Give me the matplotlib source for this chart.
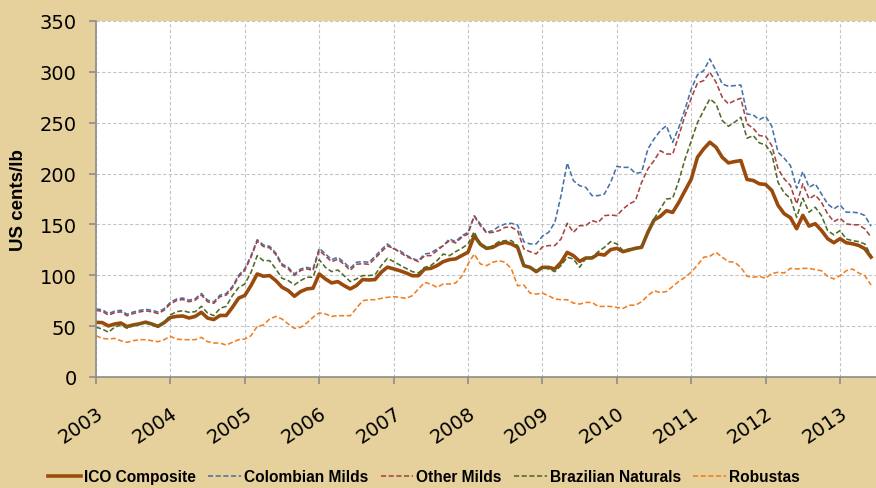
import matplotlib
matplotlib.use("Agg")
import matplotlib.pyplot as plt

# monthly prices, Jan 2003 .. Jun 2013 (US cents/lb)
ico_composite = [
    53.7, 53.5, 50.2, 52.1, 53.1, 49.6, 51.2, 52.3, 53.9, 52.1, 49.8, 53.5,
    58.5, 59.6, 60.0, 58.0, 59.6, 63.6, 57.9, 56.5, 60.5, 60.5, 68.5, 77.5,
    80.2, 89.9, 101.3, 99.1, 99.7, 94.8, 88.3, 85.0, 79.4, 84.0, 86.6, 87.3,
    101.3, 96.4, 92.5, 93.8, 89.9, 86.6, 89.9, 95.8, 95.4, 95.8, 103.0, 108.0,
    106.3, 104.5, 102.3, 99.6, 99.6, 106.2, 106.8, 109.5, 113.4, 115.4, 116.1, 119.4,
    122.7, 138.9, 130.5, 126.5, 127.5, 130.8, 132.4, 130.8, 127.5, 109.5, 107.8, 103.6,
    107.8, 107.8, 106.2, 112.7, 122.5, 119.3, 113.7, 117.0, 117.0, 120.9, 119.9, 125.2,
    126.5, 123.2, 124.9, 126.5, 127.5, 142.2, 154.3, 157.9, 163.5, 161.8, 171.7, 183.2,
    194.5, 216.0, 224.2, 230.8, 225.9, 216.0, 210.5, 211.8, 212.8, 194.2, 193.2, 189.9,
    189.3, 183.4, 168.7, 160.5, 156.6, 145.8, 158.9, 148.4, 150.7, 144.1, 136.0, 132.0,
    136.0, 132.0, 131.0, 129.4, 126.1, 117.9,
]
colombian_milds = [
    66.9, 66.2, 62.3, 64.7, 65.6, 61.7, 63.9, 65.4, 66.6, 65.6, 63.9, 67.2,
    73.4, 76.7, 77.7, 75.5, 77.0, 82.1, 75.5, 73.9, 80.5, 82.0, 89.0, 100.0,
    106.4, 119.3, 135.0, 129.8, 128.5, 121.9, 111.1, 107.8, 101.3, 106.2, 107.8, 106.2,
    126.5, 121.0, 115.4, 117.7, 112.8, 106.9, 112.8, 113.4, 112.8, 118.5, 125.0, 130.8,
    126.0, 124.2, 119.9, 116.6, 114.4, 120.9, 121.9, 125.9, 129.0, 135.7, 133.0, 138.9,
    142.2, 158.6, 150.4, 142.2, 143.9, 148.1, 150.4, 151.1, 149.4, 133.0, 130.8, 130.8,
    138.5, 142.2, 152.0, 178.3, 210.4, 193.0, 188.1, 186.4, 178.3, 178.3, 179.9, 191.4,
    207.1, 206.1, 206.1, 200.2, 201.2, 224.1, 234.0, 242.1, 247.1, 230.7, 245.4, 263.4,
    283.0, 297.0, 301.2, 312.7, 301.2, 288.1, 285.8, 286.5, 287.1, 258.6, 257.6, 253.0,
    256.3, 246.5, 220.9, 215.0, 207.9, 185.6, 202.0, 186.6, 189.9, 180.1, 170.2, 165.3,
    169.2, 162.0, 162.0, 161.4, 158.7, 148.2,
]
other_milds = [
    65.4, 64.7, 60.8, 63.2, 64.1, 60.2, 62.4, 63.9, 65.1, 64.1, 62.4, 65.7,
    71.9, 75.2, 76.2, 74.0, 75.5, 80.6, 74.0, 72.4, 79.0, 80.5, 87.5, 98.5,
    104.9, 117.8, 133.5, 128.3, 127.0, 120.4, 109.6, 106.3, 99.8, 104.7, 106.3, 104.7,
    124.5, 119.0, 113.4, 115.7, 110.8, 104.9, 110.8, 111.4, 110.8, 116.5, 123.0, 128.8,
    126.5, 122.6, 118.6, 116.0, 113.4, 119.3, 119.3, 124.2, 129.2, 134.1, 131.8, 137.4,
    140.6, 158.0, 148.8, 141.6, 142.2, 143.9, 147.2, 147.2, 143.9, 125.9, 123.2, 121.0,
    128.0, 129.2, 129.2, 135.7, 151.1, 142.2, 148.8, 148.8, 153.7, 152.0, 158.6, 159.3,
    158.6, 165.2, 170.1, 173.3, 191.4, 204.5, 212.7, 222.5, 219.3, 219.0, 237.3, 257.0,
    274.0, 289.0, 291.4, 299.6, 289.8, 275.0, 268.5, 271.8, 274.1, 248.8, 244.5, 237.3,
    236.7, 227.5, 204.6, 194.8, 188.2, 170.2, 189.9, 175.1, 179.1, 171.8, 160.4, 152.8,
    156.1, 150.6, 149.6, 149.6, 145.6, 137.5,
]
brazilian_naturals = [
    48.9, 47.2, 44.0, 48.9, 51.2, 47.9, 50.5, 51.8, 53.1, 51.2, 49.8, 53.8,
    61.0, 64.2, 65.2, 63.6, 64.2, 69.5, 62.9, 60.3, 67.5, 69.5, 80.0, 88.0,
    91.4, 102.8, 119.3, 114.4, 114.4, 106.2, 97.1, 94.8, 90.6, 94.8, 98.1, 98.1,
    115.4, 107.8, 103.6, 105.2, 99.7, 93.8, 96.4, 99.7, 99.7, 100.4, 109.5, 116.7,
    113.5, 110.1, 106.8, 103.6, 102.3, 107.8, 109.5, 114.4, 120.9, 119.3, 123.2, 126.5,
    130.8, 142.9, 129.2, 125.9, 129.2, 133.1, 134.1, 134.1, 129.2, 110.1, 107.8, 103.6,
    107.8, 106.2, 103.6, 109.5, 117.7, 116.0, 107.8, 116.7, 117.7, 123.2, 127.5, 133.1,
    130.8, 124.2, 125.9, 126.5, 129.2, 140.6, 155.4, 165.2, 175.0, 175.7, 193.0, 214.3,
    232.0, 250.0, 262.0, 273.4, 268.5, 252.1, 246.5, 250.5, 255.4, 234.8, 237.3, 230.1,
    228.2, 219.3, 191.4, 180.9, 175.7, 157.0, 175.7, 162.0, 166.9, 158.7, 144.0, 139.7,
    144.0, 135.7, 134.1, 133.1, 130.8, 119.3,
]
robustas = [
    40.6, 38.0, 37.3, 38.0, 35.7, 34.1, 35.7, 36.7, 36.7, 35.7, 34.7, 36.7,
    40.0, 37.3, 36.7, 36.7, 36.7, 39.0, 34.7, 33.4, 33.4, 31.4, 34.1, 36.7,
    37.3, 40.6, 49.8, 51.1, 57.0, 59.6, 57.0, 52.1, 47.8, 48.8, 53.1, 58.7,
    63.0, 62.0, 59.6, 60.3, 60.3, 60.3, 67.5, 75.0, 76.0, 76.0, 77.3, 78.3,
    79.0, 78.3, 77.3, 79.9, 86.5, 93.0, 91.4, 88.1, 91.4, 91.4, 92.4, 99.0,
    111.1, 120.9, 111.1, 109.5, 112.8, 114.4, 112.8, 106.2, 89.7, 90.4, 82.5, 81.5,
    82.5, 79.9, 76.6, 76.0, 76.0, 72.7, 71.7, 73.3, 73.3, 69.4, 69.4, 69.4,
    68.4, 67.4, 70.6, 70.6, 74.0, 80.0, 84.8, 83.0, 84.0, 89.0, 94.0, 98.0,
    103.0, 110.0, 117.7, 118.7, 122.6, 117.7, 113.4, 112.8, 107.8, 99.0, 98.0, 99.0,
    97.0, 101.9, 102.9, 102.3, 106.8, 106.2, 106.8, 106.8, 105.5, 104.5, 99.0, 96.4,
    99.6, 104.5, 106.2, 102.3, 99.6, 90.4,
]
years = [str(y) for y in range(2003, 2014)]
y_ticks = [0, 50, 100, 150, 200, 250, 300, 350]

months = list(range(len(ico_composite)))

series = [
    ("ICO Composite", ico_composite, "#9a4b0c", "-", 2.6),
    ("Colombian Milds", colombian_milds, "#4672a8", "--", 1.15),
    ("Other Milds", other_milds, "#a8443f", "--", 1.15),
    ("Brazilian Naturals", brazilian_naturals, "#4f6a28", "--", 1.15),
    ("Robustas", robustas, "#f07f22", "--", 1.15),
]

bg = "#e6d19c"
fig = plt.figure(figsize=(8.76, 4.89), dpi=100, facecolor=bg)
ax = fig.add_axes([96 / 876, 1 - 378 / 489, 780 / 876, 356 / 489])
ax.set_facecolor("white")

for name, vals, col, ls, lw in series:
    if ls == "-":
        ax.plot(months, vals, color=col, lw=lw, label=name, solid_joinstyle="round")
    else:
        ax.plot(months, vals, color=col, lw=lw, label=name, dashes=(3.2, 1.6))

ax.set_xlim(0, 125.8)
ax.set_ylim(0, 350)
ax.set_yticks(y_ticks)
ax.set_xticks([12 * i for i in range(len(years))])
ax.set_xticklabels(years, rotation=34, ha="right", rotation_mode="anchor")
ax.grid(True, color="#c4c4c4", lw=0.8, dashes=(3, 2))
ax.set_axisbelow(True)

for s in ["top", "right"]:
    ax.spines[s].set_visible(False)
for s in ["left", "bottom"]:
    ax.spines[s].set_color("#8c8c8c")
    ax.spines[s].set_linewidth(1.2)
ax.tick_params(axis="both", direction="out", color="#8c8c8c", length=5, width=1.2,
               labelsize=14, labelcolor="black")
ax.tick_params(axis="x", pad=14)
ax.tick_params(axis="y", pad=9)

ax.set_ylabel("US cents/lb", fontsize=13.5, fontweight="bold", family="Liberation Sans")
ax.yaxis.set_label_coords(-0.088, 0.5)

leg = fig.legend(loc="center", bbox_to_anchor=(424 / 876, 1 - 478 / 489), ncol=5,
                 frameon=False, handlelength=2.1, handletextpad=0.2, columnspacing=0.8,
                 borderpad=0, prop={"family": "Liberation Sans", "weight": "bold", "size": 11.2})

fig.savefig("out.png", dpi=100, facecolor=bg)
